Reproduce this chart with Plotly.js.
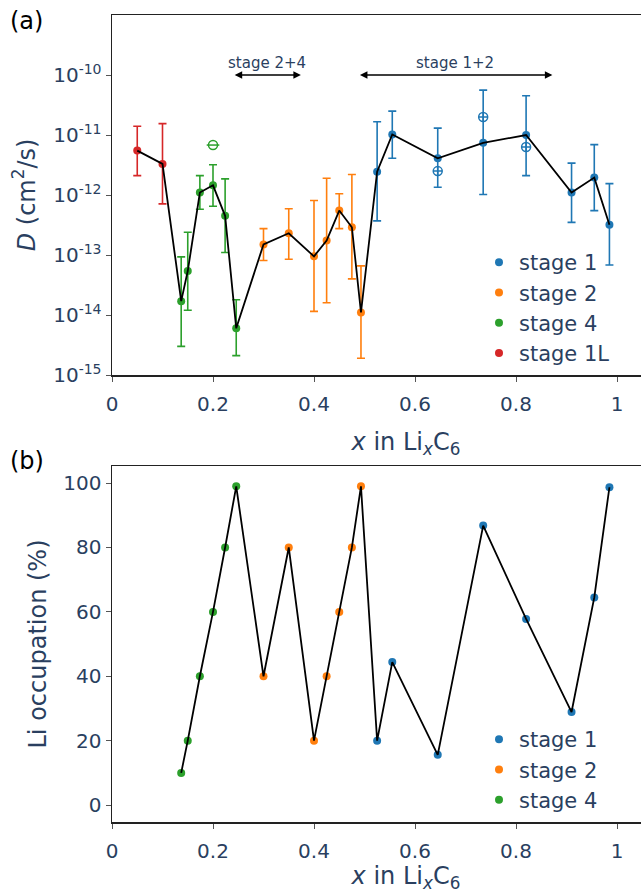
<!DOCTYPE html>
<html>
<head>
<meta charset="utf-8">
<script src="https://cdn.plot.ly/plotly-3.0.1.min.js"></script>
<style>
html,body{margin:0;padding:0;overflow:hidden;background:#fff;}
#plot{width:700px;height:893px;}
</style>
</head>
<body>
<div id="plot"></div>
<script>
// ---------- data: panel (a) diffusion coefficient ----------
const x_stage1L = [0.05, 0.1];
const D_stage1L = [5.5e-12, 3.3e-12];
const D_stage1L_hi = [1.4e-11, 1.55e-11];
const D_stage1L_lo = [2.1e-12, 7.1e-13];

const x_stage4 = [0.137, 0.15, 0.174, 0.2, 0.224, 0.246];
const D_stage4 = [1.7e-14, 5.4e-14, 1.1e-12, 1.45e-12, 4.5e-13, 6.0e-15];
const D_stage4_hi = [9.3e-14, 2.4e-13, 2.1e-12, 3.2e-12, 1.86e-12, 1.8e-14];
const D_stage4_lo = [3.0e-15, 1.2e-14, 5.8e-13, 6.5e-13, 1.1e-13, 2.1e-15];

const x_stage2 = [0.3, 0.35, 0.4, 0.425, 0.45, 0.475, 0.493];
const D_stage2 = [1.5e-13, 2.3e-13, 9.5e-14, 1.74e-13, 5.5e-13, 2.9e-13, 1.1e-14];
const D_stage2_hi = [2.75e-13, 5.9e-13, 8.1e-13, 1.9e-12, 1.05e-12, 2.2e-12, 6.6e-14];
const D_stage2_lo = [8.1e-14, 8.5e-14, 1.15e-14, 1.6e-14, 2.75e-13, 4.0e-14, 1.9e-15];

const x_stage1 = [0.525, 0.555, 0.645, 0.735, 0.82, 0.91, 0.955, 0.985];
const D_stage1 = [2.45e-12, 1.02e-11, 4.1e-12, 7.4e-12, 1.0e-11, 1.1e-12, 1.95e-12, 3.2e-13];
const D_stage1_hi = [1.66e-11, 2.5e-11, 1.3e-11, 5.6e-11, 4.5e-11, 3.4e-12, 6.9e-12, 1.55e-12];
const D_stage1_lo = [3.7e-13, 4.1e-12, 1.35e-12, 1.02e-12, 2.1e-12, 3.5e-13, 5.5e-13, 6.8e-14];

// alternative estimates (open symbols)
const x_alt4 = [0.2];
const D_alt4 = [6.8e-12];
const x_alt1 = [0.645, 0.735, 0.82];
const D_alt1 = [2.5e-12, 2.0e-11, 6.3e-12];

// ---------- data: panel (b) Li occupation ----------
const occ_stage4 = [10, 20, 40, 60, 80, 99];
const occ_stage2 = [40, 80, 20, 40, 60, 80, 99];
const occ_stage1 = [20, 44.4, 15.6, 86.8, 57.8, 28.9, 64.5, 98.7];

// ---------- labels ----------
const legendNames = {s1: 'stage 1', s2: 'stage 2', s4: 'stage 4', s1L: 'stage 1L'};
const xTicks = [0, 0.2, 0.4, 0.6, 0.8, 1];
const xTickText = ['0', '0.2', '0.4', '0.6', '0.8', '1'];
const DTicks = [1e-15, 1e-14, 1e-13, 1e-12, 1e-11, 1e-10];
const DTickText = ['10<sup>-15</sup>', '10<sup>-14</sup>', '10<sup>-13</sup>',
                   '10<sup>-12</sup>', '10<sup>-11</sup>', '10<sup>-10</sup>'];
const occTicks = [0, 20, 40, 60, 80, 100];

// ---------- styling ----------
const C = {s1: '#1f77b4', s2: '#ff7f0e', s4: '#2ca02c', s1L: '#d62728'};
const FONT = 'DejaVu Sans, Verdana, sans-serif';
const TXT = '#2a3f5f';

function errTrace(x, y, hi, lo, name, color, legend) {
  return {
    x: x, y: y, type: 'scatter', mode: 'markers', name: name,
    xaxis: 'x', yaxis: 'y', legend: legend,
    marker: {color: color, size: 8},
    error_y: {type: 'data', symmetric: false,
      array: y.map((v, i) => hi[i] - v),
      arrayminus: y.map((v, i) => v - lo[i]),
      color: color, thickness: 1.6, width: 4}
  };
}
function ptTrace(x, y, name, color, legend) {
  return {x: x, y: y, type: 'scatter', mode: 'markers', name: name,
    xaxis: 'x2', yaxis: 'y2', legend: legend,
    marker: {color: color, size: 8}};
}

const traces = [];
// panel (a)
traces.push(errTrace(x_stage1, D_stage1, D_stage1_hi, D_stage1_lo, legendNames.s1, C.s1, 'legend'));
traces.push(errTrace(x_stage2, D_stage2, D_stage2_hi, D_stage2_lo, legendNames.s2, C.s2, 'legend'));
traces.push(errTrace(x_stage4, D_stage4, D_stage4_hi, D_stage4_lo, legendNames.s4, C.s4, 'legend'));
traces.push(errTrace(x_stage1L, D_stage1L, D_stage1L_hi, D_stage1L_lo, legendNames.s1L, C.s1L, 'legend'));
traces.push({x: x_alt1, y: D_alt1, type: 'scatter', mode: 'markers', showlegend: false,
  xaxis: 'x', yaxis: 'y',
  marker: {symbol: 'circle-cross-open', size: 9, color: C.s1, line: {width: 1.5, color: C.s1}}});
traces.push({x: x_alt4, y: D_alt4, type: 'scatter', mode: 'markers', showlegend: false,
  xaxis: 'x', yaxis: 'y',
  marker: {symbol: 'circle-open', size: 9, color: C.s4, line: {width: 1.5, color: C.s4}}});
traces.push({x: x_alt4, y: D_alt4, type: 'scatter', mode: 'markers', showlegend: false,
  xaxis: 'x', yaxis: 'y',
  marker: {symbol: 'line-ew-open', size: 9, color: C.s4, line: {width: 1.5, color: C.s4}}});
traces.push({x: [].concat(x_stage1L, x_stage4, x_stage2, x_stage1),
  y: [].concat(D_stage1L, D_stage4, D_stage2, D_stage1),
  type: 'scatter', mode: 'lines', showlegend: false, xaxis: 'x', yaxis: 'y',
  line: {color: 'black', width: 1.8}});
// panel (b)
traces.push(ptTrace(x_stage1, occ_stage1, legendNames.s1, C.s1, 'legend2'));
traces.push(ptTrace(x_stage2, occ_stage2, legendNames.s2, C.s2, 'legend2'));
traces.push(ptTrace(x_stage4, occ_stage4, legendNames.s4, C.s4, 'legend2'));
traces.push({x: [].concat(x_stage4, x_stage2, x_stage1),
  y: [].concat(occ_stage4, occ_stage2, occ_stage1),
  type: 'scatter', mode: 'lines', showlegend: false, xaxis: 'x2', yaxis: 'y2',
  line: {color: 'black', width: 1.8}});

const W = 700, H = 893, L = 112;
const PW = W - L;
const px2paperX = p => (p - L) / PW;
const px2paperY = p => 1 - p / H;
const XR = [0, (W - L) / 505];

const axisCommon = {
  showline: true, linecolor: '#222', linewidth: 1.5, mirror: true,
  ticks: 'outside', ticklen: 5, tickcolor: '#555', tickwidth: 1,
  showgrid: false, zeroline: false,
  tickfont: {family: FONT, size: 20, color: TXT}
};

const xTitle = {text: '<i>x</i> in Li<sub><i>x</i></sub>C<sub>6</sub>',
  font: {family: FONT, size: 24, color: TXT}, standoff: 18};

const layout = {
  width: W, height: H,
  margin: {l: L, r: 0, t: 0, b: 0},
  paper_bgcolor: 'white', plot_bgcolor: 'white',
  font: {family: FONT, color: TXT},
  xaxis: Object.assign({}, axisCommon, {range: XR, domain: [0, 1], anchor: 'y',
    tickvals: xTicks, ticktext: xTickText, ticklabelstandoff: 5, title: xTitle}),
  yaxis: Object.assign({}, axisCommon, {type: 'log', range: [-15, -9],
    tickvals: DTicks, ticktext: DTickText, anchor: 'x',
    domain: [px2paperY(375), px2paperY(15)],
    title: {text: '<i>D</i> (cm<sup>2</sup>/s)', font: {family: FONT, size: 24, color: TXT}, standoff: 11}}),
  xaxis2: Object.assign({}, axisCommon, {range: XR, domain: [0, 1], anchor: 'y2',
    tickvals: xTicks, ticktext: xTickText, ticklabelstandoff: 5, title: xTitle}),
  yaxis2: Object.assign({}, axisCommon, {range: [-5.25, 105.3], anchor: 'x2',
    tickvals: occTicks,
    domain: [px2paperY(822), px2paperY(466)],
    title: {text: 'Li occupation (%)', font: {family: FONT, size: 24, color: TXT}, standoff: 10}}),
  legend: {x: px2paperX(479), y: px2paperY(242), xanchor: 'left', yanchor: 'top',
    bgcolor: 'rgba(0,0,0,0)', font: {family: FONT, size: 21, color: TXT}, itemgap: 4},
  legend2: {x: px2paperX(479), y: px2paperY(719), xanchor: 'left', yanchor: 'top',
    bgcolor: 'rgba(0,0,0,0)', font: {family: FONT, size: 21, color: TXT}, itemgap: 4},
  annotations: [
    {xref: 'x', yref: 'y', x: 0.374, y: -10, axref: 'x', ayref: 'y', ax: 0.24, ay: -10,
      text: '', showarrow: true, arrowside: 'end+start', arrowhead: 2, arrowsize: 1, arrowwidth: 1.5, arrowcolor: 'black'},
    {xref: 'x', yref: 'y', x: 0.872, y: -10, axref: 'x', ayref: 'y', ax: 0.488, ay: -10,
      text: '', showarrow: true, arrowside: 'end+start', arrowhead: 2, arrowsize: 1, arrowwidth: 1.5, arrowcolor: 'black'},
    {xref: 'x', yref: 'y', x: 0.306, y: -9.8, text: 'stage 2+4', showarrow: false,
      font: {family: FONT, size: 15, color: TXT}},
    {xref: 'x', yref: 'y', x: 0.679, y: -9.8, text: 'stage 1+2', showarrow: false,
      font: {family: FONT, size: 15, color: TXT}},
    {xref: 'paper', yref: 'paper', x: px2paperX(8), y: px2paperY(21), xanchor: 'left', yanchor: 'middle',
      text: '(a)', showarrow: false, font: {family: FONT, size: 24, color: 'black'}},
    {xref: 'paper', yref: 'paper', x: px2paperX(8), y: px2paperY(461), xanchor: 'left', yanchor: 'middle',
      text: '(b)', showarrow: false, font: {family: FONT, size: 24, color: 'black'}}
  ]
};

Plotly.newPlot('plot', traces, layout, {displayModeBar: false, staticPlot: true});
</script>
</body>
</html>
